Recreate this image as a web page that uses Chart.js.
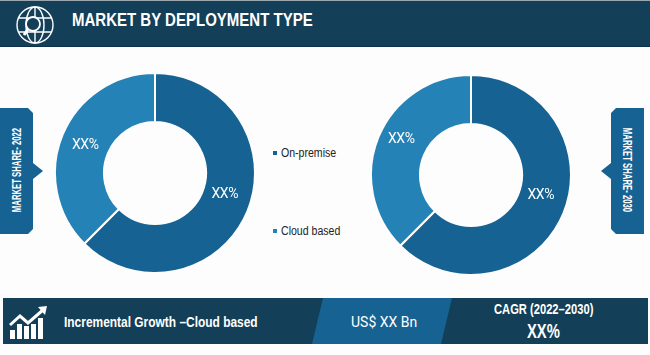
<!DOCTYPE html>
<html>
<head>
<meta charset="utf-8">
<script src="https://cdn.jsdelivr.net/npm/chart.js@4"></script>
<style>
html, body { margin: 0; padding: 0; background: #fdfdfd; }
body { width: 650px; height: 355px; position: relative; overflow: hidden; font-family: "Liberation Sans", sans-serif; }
.abs { position: absolute; }
#topline { left: 0; top: 0; width: 650px; height: 1px; background: #9aa7ae; }
#header { left: 0; top: 1px; width: 650px; height: 45px; background: #133f58; border-bottom: 1px solid #0e3048; }
#title { left: 72px; top: 7px; color: #fff; font-size: 19px; font-weight: bold; line-height: 26px; white-space: nowrap; transform: scaleX(.79); transform-origin: left; }
#footer { left: 3px; top: 298px; width: 645px; height: 46px; }
.txt { color: #fff; white-space: nowrap; line-height: 20px; transform-origin: left; }
.side { color: #fff; font-size: 12px; font-weight: bold; white-space: nowrap; line-height: 14px; }
canvas { position: absolute; }
.leg { color: #222; font-size: 12px; white-space: nowrap; line-height: 14px; }
.leg i { display: inline-block; width: 4px; height: 4px; margin-right: 4px; vertical-align: 2px; }
.leg span { display: inline-block; transform: scaleX(.88); transform-origin: left; }
</style>
</head>
<body>
<div class="abs" id="topline"></div>
<div class="abs" id="header"></div>
<svg class="abs" style="left:15px;top:6px" width="40" height="38" viewBox="0 0 40 38" fill="none" stroke="#fff" stroke-width="1.4">
  <circle cx="20" cy="19" r="18"/>
  <ellipse cx="20" cy="19" rx="9" ry="18"/>
  <path d="M20 1V37M3 12H37M3 26H37"/>
  <circle cx="18" cy="18" r="7" fill="#133f58" stroke-width="1.8"/>
  <path d="M13 23L9 29" stroke-width="3"/>
</svg>
<div class="abs" id="title">MARKET BY DEPLOYMENT TYPE</div>

<svg class="abs" style="left:0;top:108px" width="44" height="127">
  <path d="M0 0H28L33 5V55L43 63L33 71V121L28 126H0Z" fill="#166293"/>
</svg>
<svg class="abs" style="left:601px;top:108px" width="44" height="127">
  <path d="M43 0H15L10 5V55L0 63L10 71V121L15 126H43Z" fill="#166293"/>
</svg>
<div class="abs side" style="left:17px;top:170px;transform:translate(-50%,-50%) rotate(-90deg) scaleX(.645)">MARKET SHARE- 2022</div>
<div class="abs side" style="left:627px;top:170px;transform:translate(-50%,-50%) rotate(90deg) scaleX(.645)">MARKET SHARE- 2030</div>

<canvas id="share2022"></canvas>
<canvas id="share2030"></canvas>
<div class="abs leg" id="leg0" style="left:273px;top:146px"></div>
<div class="abs leg" id="leg1" style="left:273px;top:224px"></div>

<svg class="abs" id="footer" viewBox="0 0 645 46">
  <rect width="645" height="46" fill="#133f58"/>
  <path d="M320 0H449L438 46H309Z" fill="#166293"/>
</svg>
<svg class="abs" style="left:9px;top:305px" width="39" height="35" fill="#fff">
  <path d="M1 25h5v9H1zM8 19h5v15H8zM15 21h5v13h-5zM22 19h5v15h-5zM29 13h5v21h-5z"/>
  <path d="M1 20L11 11L19 18L34 5" fill="none" stroke="#fff" stroke-width="3"/>
  <path d="M29 2L38 1L36 10Z"/>
</svg>
<div class="abs txt" style="left:64px;top:312px;font-size:15.5px;font-weight:bold;transform:scaleX(.77)">Incremental Growth –Cloud based</div>
<div class="abs txt" style="left:351px;top:312px;font-size:14px;font-family:Roboto,sans-serif">US$ XX Bn</div>
<div class="abs txt" style="left:494px;top:299px;font-size:15px;font-weight:bold;transform:scaleX(.745)">CAGR (2022–2030)</div>
<div class="abs txt" style="left:527px;top:321px;font-size:20px;font-weight:bold;transform:scaleX(.74)">XX%</div>

<script>
var categories = ['On-premise', 'Cloud based'];
var share2022 = [62.5, 37.5];
var share2030 = [62.5, 37.5];
var shareLabels = ['XX%', 'XX%'];
var sliceColors = ['#166293', '#2582b6'];

// writes the XX% text on each ring slice, nudged up from the slice middle
function sliceText(nudge) {
    return {
        id: 'sliceText',
        afterDatasetsDraw: function (chart) {
            var ctx = chart.ctx;
            ctx.save();
            ctx.fillStyle = '#fff';
            ctx.font = '14px Roboto, sans-serif';
            ctx.letterSpacing = '-0.4px';
            ctx.textAlign = 'center';
            ctx.textBaseline = 'middle';
            chart.getDatasetMeta(0).data.forEach(function (arc, i) {
                var p = arc.tooltipPosition();
                ctx.fillText(shareLabels[i], p.x, p.y + nudge[i]);
            });
            ctx.restore();
        }
    };
}

function ring(id, values, left, top, nudge) {
    var el = document.getElementById(id);
    el.width = 206;
    el.height = 206;
    el.style.left = left + 'px';
    el.style.top = top + 'px';
    return new Chart(el.getContext('2d'), {
        type: 'doughnut',
        data: {
            labels: categories,
            datasets: [{
                data: values,
                backgroundColor: sliceColors,
                borderColor: '#fdfdfd',
                borderWidth: 2
            }]
        },
        options: {
            responsive: false,
            animation: false,
            cutout: '51%',
            layout: { padding: 2 },
            plugins: { legend: { display: false }, tooltip: { enabled: false } }
        },
        plugins: [sliceText(nudge)]
    });
}

ring('share2022', share2022, 52, 70, [-7, 1]);
ring('share2030', share2030, 368, 72, [-8, -7]);

categories.forEach(function (name, i) {
    document.getElementById('leg' + i).innerHTML =
        '<i style="background:' + sliceColors[i] + '"></i><span>' + name + '</span>';
});
</script>
</body>
</html>
